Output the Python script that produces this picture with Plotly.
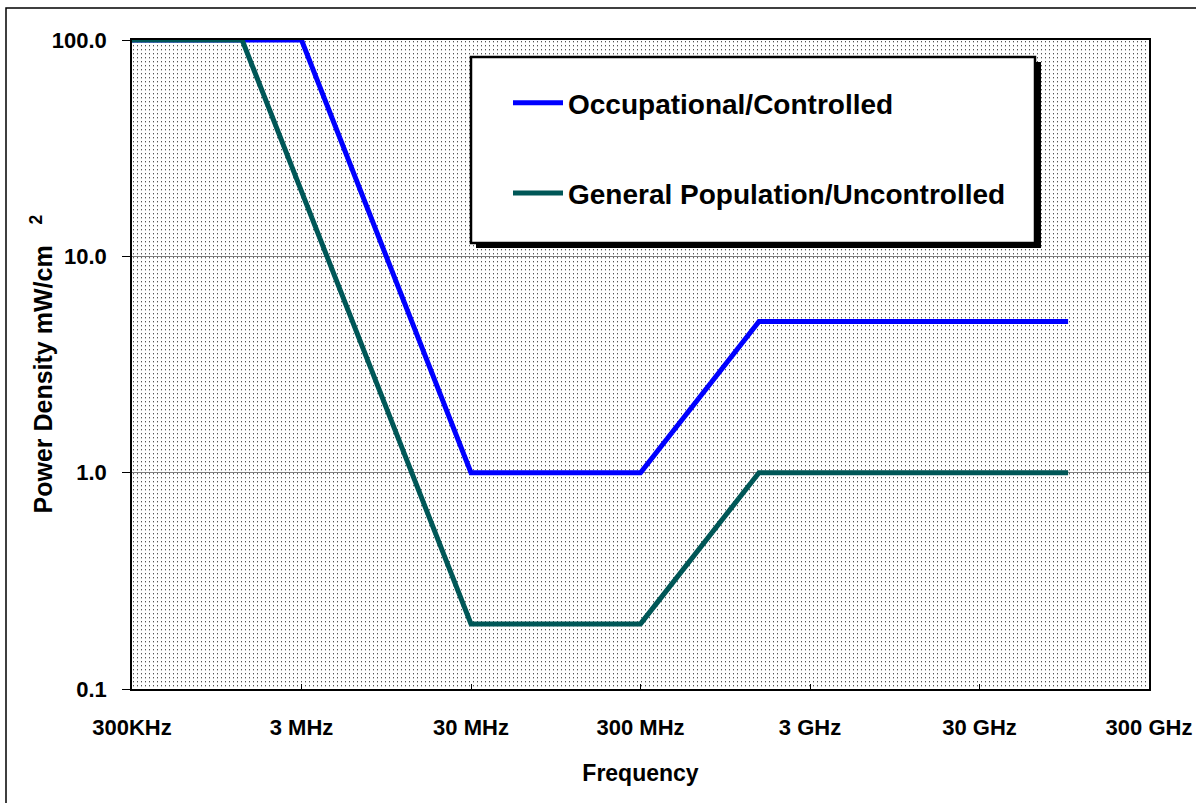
import base64
import plotly.graph_objects as go

# ---- data ----
occ_freq_mhz = [0.3, 3, 30, 300, 1500, 100000]
occ_pd = [100.0, 100.0, 1.0, 1.0, 5.0, 5.0]

gen_freq_mhz = [0.3, 1.34, 30, 300, 1500, 100000]
gen_pd = [100.0, 100.0, 0.2, 0.2, 1.0, 1.0]

x_tickvals = [0.3, 3, 30, 300, 3000, 30000, 300000]
x_ticktext = ["300KHz", "3 MHz", "30 MHz", "300 MHz", "3 GHz", "30 GHz", "300 GHz"]
y_tickvals = [0.1, 1, 10, 100]
y_ticktext = ["0.1", "1.0", "10.0", "100.0"]

W, H = 1196, 803
ML, MR, MT, MB = 132, 47, 40, 114
PW, PH = W - ML - MR, H - MT - MB

FONT = "Liberation Sans, Arial, sans-serif"

# dotted background pattern for the plot area
svg = (
    f'<svg xmlns="http://www.w3.org/2000/svg" width="{PW}" height="{PH}">'
    '<defs><pattern id="p" width="4" height="4" patternUnits="userSpaceOnUse">'
    '<rect x="0" y="0" width="4" height="4" fill="#ffffff"/>'
    '<rect x="1" y="1" width="1" height="1" fill="#555555"/>'
    '<rect x="1" y="2" width="1" height="1" fill="#c0c0c0"/>'
    '</pattern></defs>'
    f'<rect x="0" y="0" width="{PW}" height="{PH}" fill="url(#p)"/></svg>'
)
svg_uri = "data:image/svg+xml;base64," + base64.b64encode(svg.encode()).decode()

fig = go.Figure()
fig.add_trace(go.Scatter(
    x=occ_freq_mhz, y=occ_pd, mode="lines", name="Occupational/Controlled",
    line=dict(color="#0000ff", width=5), legendgroup="a",
))
fig.add_trace(go.Scatter(
    x=gen_freq_mhz, y=gen_pd, mode="lines", name="General Population/Uncontrolled",
    line=dict(color="#005757", width=5), legendgroup="b",
))

def px_x(p):
    return (p - ML) / PW

def px_y(p):
    return (MT + PH - p) / PH

shapes = [
    # outer frame
    dict(type="rect", xref="paper", yref="paper",
         x0=px_x(6), x1=px_x(1230), y0=px_y(8), y1=px_y(840),
         line=dict(color="black", width=1.5), fillcolor="rgba(0,0,0,0)", layer="above"),
    # legend shadow
    dict(type="rect", xref="paper", yref="paper",
         x0=px_x(476), x1=px_x(1041), y0=px_y(62), y1=px_y(248),
         line=dict(width=0), fillcolor="black", layer="above"),
    # legend box
    dict(type="rect", xref="paper", yref="paper",
         x0=px_x(471), x1=px_x(1035), y0=px_y(57), y1=px_y(243),
         line=dict(color="black", width=2.5), fillcolor="white", layer="above"),
]

fig.update_layout(
    width=W, height=H,
    margin=dict(l=ML, r=MR, t=MT, b=MB, pad=0, autoexpand=False),
    paper_bgcolor="white",
    plot_bgcolor="rgba(0,0,0,0)",
    font=dict(family=FONT, color="black", size=22, weight="bold"),
    showlegend=True,
    legend=dict(
        x=px_x(508), y=px_y(78), xanchor="left", yanchor="top",
        bgcolor="rgba(0,0,0,0)", borderwidth=0,
        font=dict(family=FONT, size=28, color="black", weight="bold"),
        tracegroupgap=51, itemwidth=50,
    ),
    images=[dict(source=svg_uri, xref="paper", yref="paper", x=0, y=1,
                 sizex=1, sizey=1, xanchor="left", yanchor="top",
                 sizing="stretch", layer="below")],
    shapes=shapes,
    annotations=[dict(
        text="Power Density mW/cm&nbsp;&nbsp; <sup>2</sup>",
        xref="paper", yref="paper", x=px_x(41), y=0.5,
        xanchor="center", yanchor="middle", textangle=-90, showarrow=False,
        font=dict(family=FONT, size=25, weight="bold", color="black"),
    )],
    xaxis=dict(
        type="log", range=[-0.5228787, 5.4771213], automargin=False,
        tickvals=x_tickvals, ticktext=x_ticktext,
        ticks="inside", ticklen=5, tickcolor="black", tickwidth=1,
        showline=True, linecolor="black", linewidth=1.5, mirror=True,
        showgrid=False, zeroline=False,
        tickfont=dict(size=22, weight="bold"), ticklabelstandoff=18,
        title=dict(text="Frequency", font=dict(size=23, weight="bold"), standoff=26),
    ),
    yaxis=dict(
        type="log", range=[-1, 2], automargin=False,
        tickvals=y_tickvals, ticktext=y_ticktext,
        ticks="outside", ticklen=8, tickcolor="black", tickwidth=1,
        showline=True, linecolor="black", linewidth=1.5, mirror=True,
        showgrid=True, gridcolor="#7f7f7f", gridwidth=1, zeroline=False,
        tickfont=dict(size=22, weight="bold"), ticklabelstandoff=11,
    ),
)

fig.write_html("out.html", config={"displayModeBar": False},
               post_script="document.body.style.margin='0';")
